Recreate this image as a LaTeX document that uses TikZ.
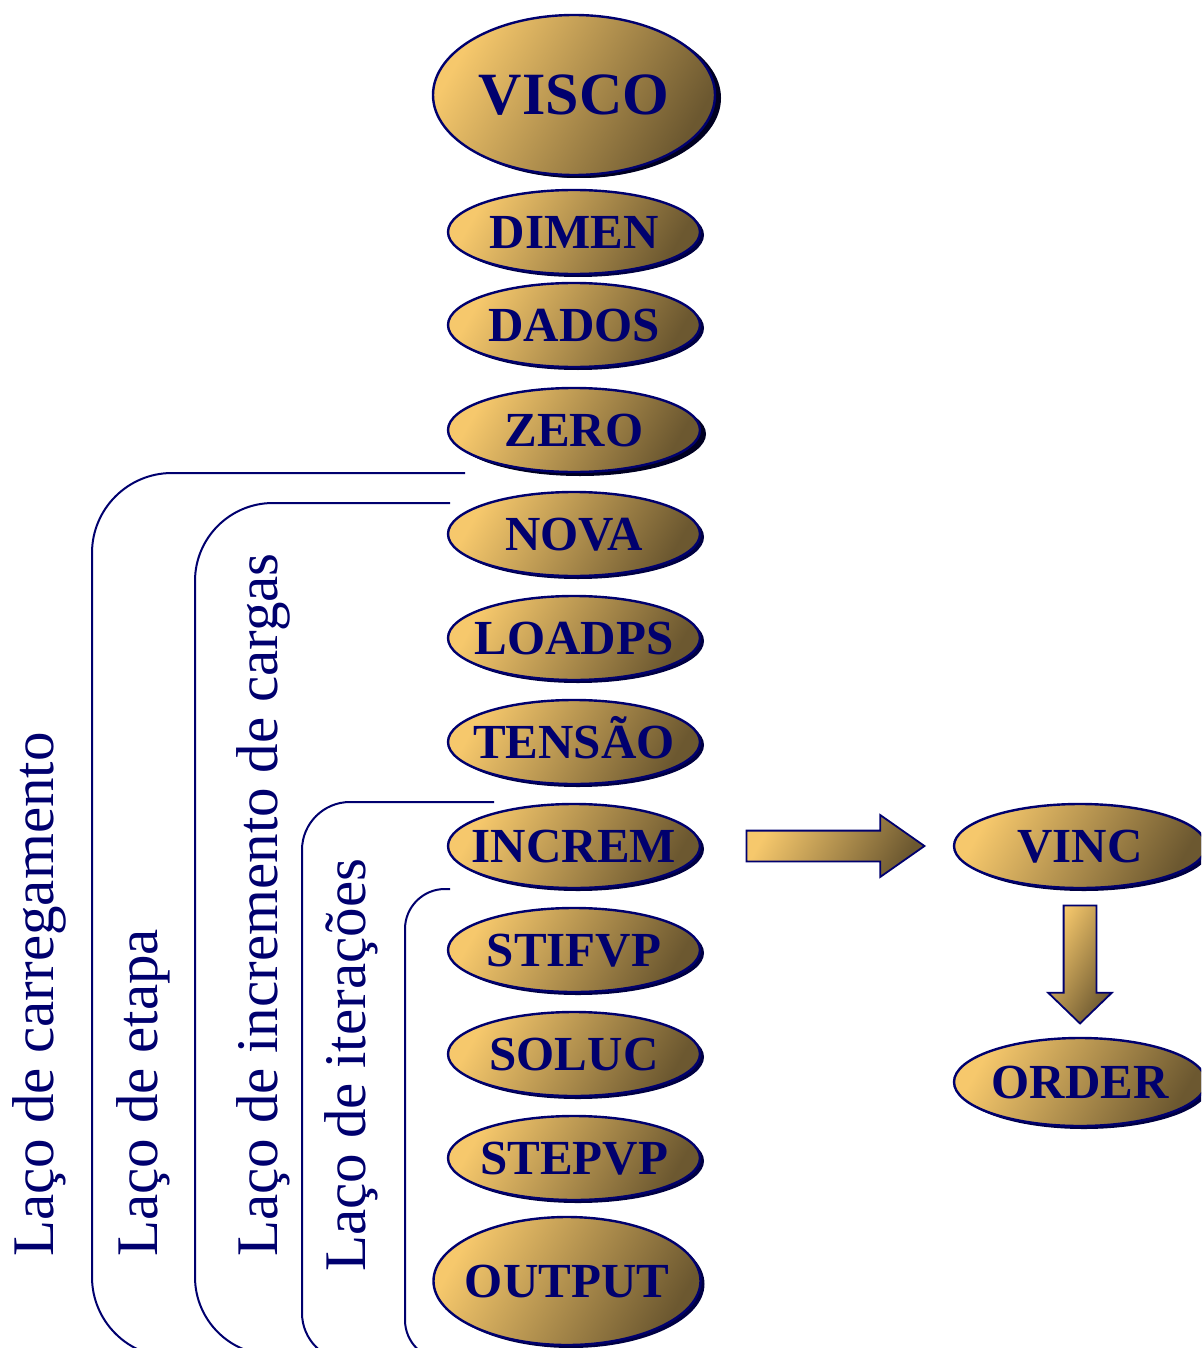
\documentclass[tikz,border=0pt]{standalone}
\usepackage{fontspec}
\setmainfont{Liberation Serif}
\usepackage{tikz}
\usetikzlibrary{shapes.geometric,shapes.arrows,shadows,positioning}

\definecolor{azul}{RGB}{0,0,110}
\definecolor{ouroclaro}{RGB}{246,200,108}
\definecolor{ouromeio}{RGB}{198,160,88}
\definecolor{ouroescuro}{RGB}{108,88,48}

\newcommand{\rot}[1]{\makebox[0pt]{#1}}

\begin{document}
\begin{tikzpicture}[x=0.5pt,y=-0.5pt,node distance=10pt,
                    ouro/.style={top color=ouroclaro,middle color=ouromeio,bottom color=ouroescuro,shading angle=60},
                    sub/.style={ellipse,draw=azul,line width=1.2pt,ouro,inner sep=0pt,outer sep=0pt,
                      minimum width=126pt,minimum height=42pt,text height=16.2pt,text depth=0pt,
                      text=azul,font=\bfseries\fontsize{24.5}{24.5}\selectfont,
                      drop shadow={shadow xshift=2pt,shadow yshift=-1.5pt,fill=azul!60!black,opacity=1}},
                    laco/.style={draw=azul,line width=1pt},
                    rotulo/.style={rotate=90,anchor=base west,inner sep=0pt,text=azul,
                      font=\fontsize{29.5}{29.5}\selectfont},
                    seta/.style={single arrow,draw=azul,line width=0.9pt,ouro,minimum height=89pt,
                      minimum width=0pt,inner xsep=0pt,inner ysep=7.25pt,outer sep=0pt,
                      single arrow head extend=7.75pt,single arrow tip angle=70}]

  \useasboundingbox (0,0) rectangle (1201,1348);
  \clip (0,0) rectangle (1201,1348);

  %lacos%
  \draw[laco,rounded corners=40pt] (465,473) -| (92,1357) -- (220,1357);
  \draw[laco,rounded corners=39pt] (450,503) -| (195,1355) -- (320,1355);
  \draw[laco,rounded corners=24pt] (494,802) -| (302,1361) -- (400,1361);
  \draw[laco,rounded corners=20pt] (450,889) -| (405,1360) -- (480,1360);

  \node[rotulo] (lcarreg) at (53,1257) {Laço de carregamento};
  \node[rotulo] (letapa) at (157,1257) {Laço de etapa};
  \node[rotulo] (lincrem) at (277,1257) {Laço de incremento de cargas};
  \node[rotulo] (liter) at (365,1272) {Laço de iterações};

  %programa%
  \node[sub,minimum width=141pt,minimum height=80pt,text height=19.9pt,
        font=\bfseries\fontsize{30}{30}\selectfont,
        drop shadow={shadow xshift=3pt,shadow yshift=-1.5pt,fill=azul!30!black,opacity=1}]
        (visco) at (574,95) {\rot{VISCO}};
  \node[sub] (dimen) [below=7.5pt of visco] {\rot{DIMEN}};
  \node[sub] (dados) [below=4.5pt of dimen] {\rot{DADOS}};
  \node[sub,drop shadow={shadow xshift=3pt,shadow yshift=-2pt,fill=azul!30!black,opacity=1}]
        (zero) [below=10.5pt of dados] {\rot{ZERO}};
  \node[sub] (nova) [below=of zero] {\rot{NOVA}};
  \node[sub] (loadps) [below=of nova] {\rot{LOADPS}};
  \node[sub] (tensao) [below=of loadps] {\rot{TENSÃO}};
  \node[sub] (increm) [below=of tensao] {\rot{INCREM}};
  \node[sub] (stifvp) [below=of increm] {\rot{STIFVP}};
  \node[sub] (soluc) [below=of stifvp] {\rot{SOLUC}};
  \node[sub] (stepvp) [below=of soluc] {\rot{STEPVP}};
  \node[sub,minimum width=133.5pt,minimum height=64pt] (output) [below=8.5pt of stepvp,xshift=-3.5pt] {\rot{OUTPUT}};

  %sub-rotinas%
  \node[sub] (vinc) [right=127pt of increm] {\rot{VINC}};
  \node[sub,minimum height=44pt] (order) [below=75pt of vinc] {\rot{ORDER}};

  \path (increm) -- node[seta,pos=0.49] (s1) {} (vinc);
  \path (vinc) -- node[seta,pos=0.457,rotate=-90,minimum height=59pt,inner ysep=7.75pt,
                       single arrow tip angle=92] (s2) {} (order);
\end{tikzpicture}
\end{document}
